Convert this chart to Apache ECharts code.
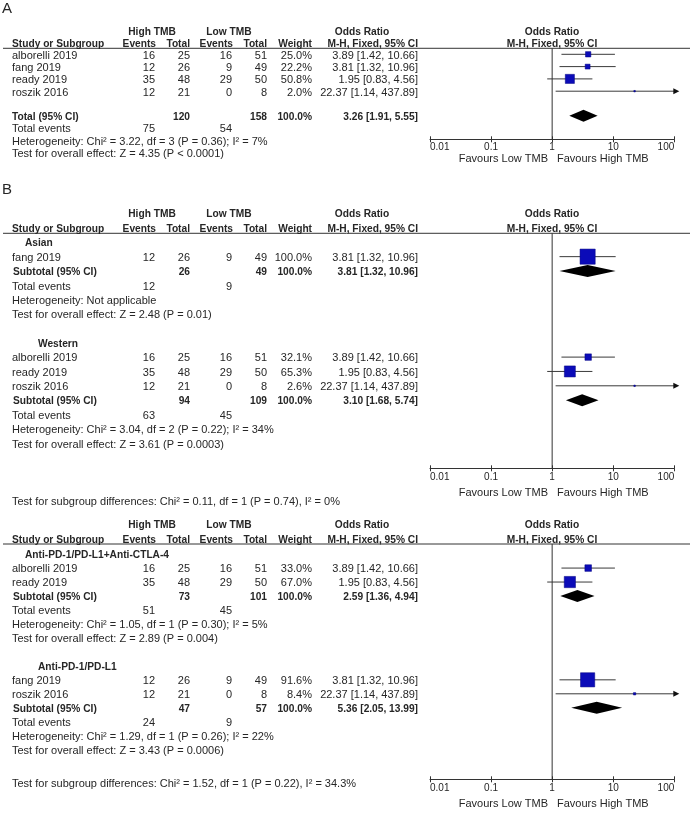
<!DOCTYPE html>
<html><head><meta charset="utf-8">
<script src="https://cdn.jsdelivr.net/npm/echarts@6/dist/echarts.min.js"></script>
<style>html,body{margin:0;padding:0;background:#fff}#c{width:691px;height:818px}</style>
</head><body><div id="c"></div>
<script>
// ---------------- DATA ----------------
const studyNames = ['alborelli 2019', 'fang 2019', 'ready 2019', 'roszik 2016'];
const highEvents = [16, 12, 35, 12];
const highTotal  = [25, 26, 48, 21];
const lowEvents  = [16, 9, 29, 0];
const lowTotal   = [51, 49, 50, 8];
const oddsRatio  = [3.89, 3.81, 1.95, 22.37];
const ciLower    = [1.42, 1.32, 0.83, 1.14];
const ciUpper    = [10.66, 10.96, 4.56, 437.89];
const tickLabels = ['0.01', '0.1', '1', '10', '100'];

// Panel A (overall)
const aStudies = [0, 1, 2, 3];
const aWeights = [25.0, 22.2, 50.8, 2.0];
const aPooled  = [3.26, 1.91, 5.55];
const aTotals  = [120, 158];
const aEvents  = [75, 54];
const aHet     = 'Chi² = 3.22, df = 3 (P = 0.36); I² = 7%';
const aZ       = 'Z = 4.35 (P < 0.0001)';

// Panel B, first plot (ethnicity)
const b1Groups  = ['Asian', 'Western'];
const b1Studies = [[1], [0, 2, 3]];
const b1Weights = [[100.0], [32.1, 65.3, 2.6]];
const b1Pooled  = [[3.81, 1.32, 10.96], [3.10, 1.68, 5.74]];
const b1Totals  = [[26, 49], [94, 109]];
const b1Events  = [[12, 9], [63, 45]];
const b1Het     = ['Not applicable', 'Chi² = 3.04, df = 2 (P = 0.22); I² = 34%'];
const b1Z       = ['Z = 2.48 (P = 0.01)', 'Z = 3.61 (P = 0.0003)'];
const b1Diff    = 'Chi² = 0.11, df = 1 (P = 0.74), I² = 0%';

// Panel B, second plot (treatment)
const b2Groups  = ['Anti-PD-1/PD-L1+Anti-CTLA-4', 'Anti-PD-1/PD-L1'];
const b2Studies = [[0, 2], [1, 3]];
const b2Weights = [[33.0, 67.0], [91.6, 8.4]];
const b2Pooled  = [[2.59, 1.36, 4.94], [5.36, 2.05, 13.99]];
const b2Totals  = [[73, 101], [47, 57]];
const b2Events  = [[51, 45], [24, 9]];
const b2Het     = ['Chi² = 1.05, df = 1 (P = 0.30); I² = 5%', 'Chi² = 1.29, df = 1 (P = 0.26); I² = 22%'];
const b2Z       = ['Z = 2.89 (P = 0.004)', 'Z = 3.43 (P = 0.0006)'];
const b2Diff    = 'Chi² = 1.52, df = 1 (P = 0.22), I² = 34.3%';

// ---------------- LAYOUT ----------------
const FONT = '"Liberation Sans", Arial, sans-serif';
const TXT = '#262626';
const TEXT_DY = 1.3;
const COL = { name: 12, sub: 13, hiEv: 155, hiTot: 190, loEv: 232, loTot: 267, wt: 312, or: 418 };
const PLOT_L = 430, PLOT_R = 674.3, W = 691;

const panels = [
  { y0: 54.3, rh: 12.3, underline: 48.3, axisY: 139.3, hdrGap: 12.2, lblMargin: 3, favOff: 19,
    letter: 'A', letterY: 9, blankBeforePooled: true, pooledName: 'Total (95% CI)', pooledX: COL.name,
    groups: [{ label: null, studies: aStudies, weights: aWeights, pooled: aPooled, totals: aTotals, events: aEvents, het: aHet, z: aZ }] },
  { y0: 242.3, rh: 14.35, underline: 233.3, axisY: 468.3, hdrGap: 15, lblMargin: 4, favOff: 24.4,
    letter: 'B', letterY: 189.5, diff: b1Diff, diffY: 501.5, blankBeforePooled: false, pooledName: 'Subtotal (95% CI)', pooledX: COL.sub,
    groups: b1Groups.map((g, i) => ({ label: g, indent: [25, 38][i], studies: b1Studies[i], weights: b1Weights[i], pooled: b1Pooled[i], totals: b1Totals[i], events: b1Events[i], het: b1Het[i], z: b1Z[i] })) },
  { y0: 554.1, rh: 13.97, underline: 544, axisY: 779.3, hdrGap: 15, lblMargin: 4, favOff: 24,
    diff: b2Diff, diffY: 783.5, blankBeforePooled: false, pooledName: 'Subtotal (95% CI)', pooledX: COL.sub,
    groups: b2Groups.map((g, i) => ({ label: g, indent: [25, 38][i], studies: b2Studies[i], weights: b2Weights[i], pooled: b2Pooled[i], totals: b2Totals[i], events: b2Events[i], het: b2Het[i], z: b2Z[i] })) }
];

function orText(v, lo, hi) { return v.toFixed(2) + ' [' + lo.toFixed(2) + ', ' + hi.toFixed(2) + ']'; }

function buildRows(p) {
  const text = [], forest = [];
  const T = (x, row, s, align, bold) => text.push({ x, row, text: s, align, bold: !!bold });
  const h2 = (p.underline - 5.3 - p.y0) / p.rh, h1 = h2 - p.hdrGap / p.rh;
  T(152, h1, 'High TMB', 'center', true); T(229, h1, 'Low TMB', 'center', true);
  T(362, h1, 'Odds Ratio', 'center', true); T(552, h1, 'Odds Ratio', 'center', true);
  T(COL.name, h2, 'Study or Subgroup', 'left', true);
  T(156, h2, 'Events', 'right', true); T(COL.hiTot, h2, 'Total', 'right', true);
  T(233, h2, 'Events', 'right', true); T(COL.loTot, h2, 'Total', 'right', true);
  T(COL.wt, h2, 'Weight', 'right', true); T(COL.or, h2, 'M-H, Fixed, 95% CI', 'right', true);
  T(552, h2, 'M-H, Fixed, 95% CI', 'center', true);
  let r = 0;
  p.groups.forEach((g, gi) => {
    if (gi > 0) r += 1;
    if (g.label) { T(g.indent, r, g.label, 'left', true); r++; }
    g.studies.forEach((si, k) => {
      T(COL.name, r, studyNames[si], 'left');
      T(COL.hiEv, r, String(highEvents[si]), 'right');
      T(COL.hiTot, r, String(highTotal[si]), 'right');
      T(COL.loEv, r, String(lowEvents[si]), 'right');
      T(COL.loTot, r, String(lowTotal[si]), 'right');
      T(COL.wt, r, g.weights[k].toFixed(1) + '%', 'right');
      T(COL.or, r, orText(oddsRatio[si], ciLower[si], ciUpper[si]), 'right');
      forest.push({ kind: 'study', row: r, or: oddsRatio[si], lo: ciLower[si], hi: ciUpper[si], w: g.weights[k] });
      r++;
    });
    if (p.blankBeforePooled) r++;
    T(p.pooledX, r, p.pooledName, 'left', true);
    T(COL.hiTot, r, String(g.totals[0]), 'right', true);
    T(COL.loTot, r, String(g.totals[1]), 'right', true);
    T(COL.wt, r, '100.0%', 'right', true);
    T(COL.or, r, orText(g.pooled[0], g.pooled[1], g.pooled[2]), 'right', true);
    forest.push({ kind: 'pooled', row: r, or: g.pooled[0], lo: g.pooled[1], hi: g.pooled[2] });
    r++;
    T(COL.name, r, 'Total events', 'left');
    T(COL.hiEv, r, String(g.events[0]), 'right');
    T(COL.loEv, r, String(g.events[1]), 'right');
    r++;
    T(COL.name, r, 'Heterogeneity: ' + g.het, 'left'); r++;
    T(COL.name, r, 'Test for overall effect: ' + g.z, 'left'); r++;
  });
  return { text, forest };
}

const grid = [], xAxis = [], yAxis = [], series = [], graphic = [];

panels.forEach((p, pi) => {
  const rows = buildRows(p);
  const px = row => p.y0 + row * p.rh;
  const tMin = -3, tMax = 16;
  const gT = grid.length;
  grid.push({ left: 0, width: W, top: px(tMin), height: px(tMax) - px(tMin) });
  const xT = xAxis.length;
  xAxis.push({ type: 'value', gridIndex: gT, min: 0, max: W, show: false });
  const yT = yAxis.length;
  yAxis.push({ type: 'value', gridIndex: gT, min: tMin, max: tMax, inverse: true, show: false });
  series.push({
    type: 'custom', xAxisIndex: xT, yAxisIndex: yT, clip: false, silent: true,
    data: rows.text.map(t => [t.x, t.row]),
    renderItem: (params, api) => {
      const t = rows.text[params.dataIndex];
      const c = api.coord([api.value(0), api.value(1)]);
      return { type: 'text', style: { x: c[0], y: c[1] + TEXT_DY, text: t.text, align: t.align, verticalAlign: 'middle',
        fontSize: t.bold ? 10.2 : 11, fontFamily: FONT, fontWeight: t.bold ? 'bold' : 'normal', fill: TXT } };
    }
  });
  const gF = grid.length;
  grid.push({ left: PLOT_L, right: W - PLOT_R, top: p.underline, height: p.axisY - p.underline });
  const xF = xAxis.length;
  xAxis.push({
    type: 'log', logBase: 10, gridIndex: gF, min: 0.01, max: 100, position: 'bottom',
    axisLine: { show: true, onZero: false, lineStyle: { color: '#333', width: 1 } },
    axisTick: { show: true, length: 3, lineStyle: { color: '#333' } },
    splitLine: { show: false }, minorTick: { show: false },
    axisLabel: { show: true, margin: p.lblMargin, fontSize: 10, fontFamily: FONT, color: TXT,
      alignMinLabel: 'left', alignMaxLabel: 'right',
      formatter: v => tickLabels[Math.round(Math.log10(v)) + 2] }
  });
  xAxis.push({
    type: 'log', logBase: 10, gridIndex: gF, min: 0.01, max: 100, position: 'bottom',
    axisLine: { show: false, onZero: false }, axisTick: { show: true, inside: true, length: 3, lineStyle: { color: '#333' } },
    splitLine: { show: false }, axisLabel: { show: false }
  });
  const yF = yAxis.length;
  const fMin = (p.underline - p.y0) / p.rh, fMax = (p.axisY - p.y0) / p.rh;
  yAxis.push({ type: 'value', gridIndex: gF, min: fMin, max: fMax, inverse: true, show: false });
  series.push({ type: 'line', xAxisIndex: xF, yAxisIndex: yF, data: [[1, fMin], [1, fMax]], showSymbol: false, silent: true,
    lineStyle: { color: '#333', width: 1 }, animation: false });
  series.push({
    type: 'custom', xAxisIndex: xF, yAxisIndex: yF, clip: false, silent: true,
    data: rows.forest.map(f => [f.or, f.row, f.lo, f.hi]),
    encode: { x: 0, y: 1 },
    renderItem: (params, api) => {
      const f = rows.forest[params.dataIndex];
      const c = api.coord([f.or, f.row]);
      const l = api.coord([f.lo, f.row]);
      const h = api.coord([Math.min(f.hi, 100), f.row]);
      const ch = [];
      if (f.kind === 'study') {
        ch.push({ type: 'line', shape: { x1: l[0], y1: l[1], x2: h[0], y2: h[1] }, style: { stroke: '#3a3a3a', lineWidth: 1 } });
        if (f.hi > 100) ch.push({ type: 'polygon', shape: { points: [[h[0] - 1, h[1] - 3], [h[0] + 5, h[1]], [h[0] - 1, h[1] + 3]] }, style: { fill: '#111' } });
        const s = Math.max(1.5, 0.48 * Math.pow(f.w, 0.75));
        ch.push({ type: 'rect', shape: { x: c[0] - s / 2, y: c[1] - s / 2, width: s, height: s }, style: { fill: '#0b0bb8', stroke: '#000080', lineWidth: 0.5 } });
      } else {
        const hh = 6;
        ch.push({ type: 'polygon', shape: { points: [[l[0], l[1]], [c[0], c[1] - hh], [h[0], h[1]], [c[0], c[1] + hh]] }, style: { fill: '#000' } });
      }
      return { type: 'group', children: ch };
    }
  });
  graphic.push({ type: 'line', shape: { x1: 3, y1: p.underline, x2: 690, y2: p.underline }, style: { stroke: '#333', lineWidth: 1 }, silent: true });
  const fy = p.axisY + p.favOff + 0.5;
  graphic.push({ type: 'text', x: 548, y: fy, style: { text: 'Favours Low TMB', align: 'right', verticalAlign: 'middle', fontSize: 11, fontFamily: FONT, fill: TXT } });
  graphic.push({ type: 'text', x: 557, y: fy, style: { text: 'Favours High TMB', align: 'left', verticalAlign: 'middle', fontSize: 11, fontFamily: FONT, fill: TXT } });
  if (p.letter) graphic.push({ type: 'text', x: 2, y: p.letterY, style: { text: p.letter, align: 'left', verticalAlign: 'middle', fontSize: 15, fontFamily: FONT, fill: TXT } });
  if (p.diff) graphic.push({ type: 'text', x: 12, y: p.diffY, style: { text: 'Test for subgroup differences: ' + p.diff, align: 'left', verticalAlign: 'middle', fontSize: 11, fontFamily: FONT, fill: TXT } });
});

const chart = echarts.init(document.getElementById('c'), null, { renderer: 'canvas' });
chart.setOption({ backgroundColor: '#fff', animation: false, grid, xAxis, yAxis, series, graphic });
</script></body></html>
